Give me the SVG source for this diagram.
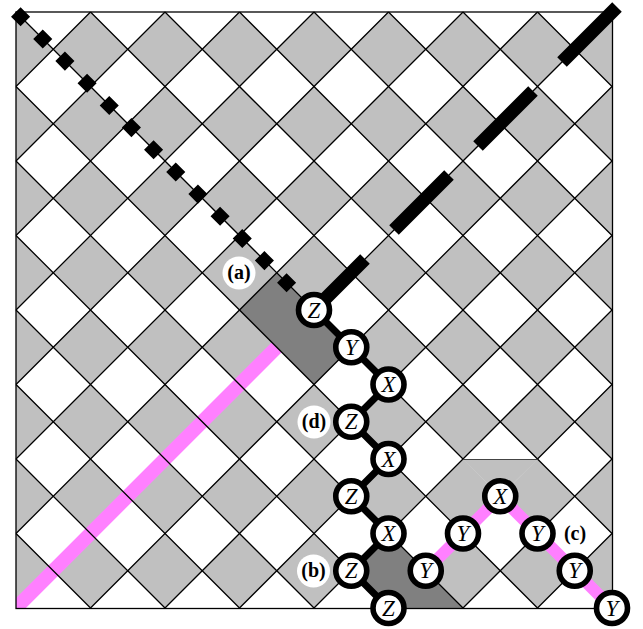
<svg xmlns="http://www.w3.org/2000/svg" width="643" height="629" viewBox="0 0 643 629">
<style>
.grid{fill:none;stroke:#000;stroke-width:1.3}
.light{fill:#c0c0c0}
.dark{fill:#808080}
.pink{fill:none;stroke:#ff80ff;stroke-width:14}
.pinkn{fill:none;stroke:#ff80ff;stroke-width:12}
.blk{fill:none;stroke:#000;stroke-width:7}
.n{fill:#fff;stroke:#000;stroke-width:5.6}
.t{font-family:"Liberation Serif",serif;font-style:italic;font-size:23px;text-anchor:middle}
.lb{fill:#fff}
.lt{font-family:"Liberation Serif",serif;font-weight:bold;font-size:20px;text-anchor:middle}
</style>
<defs>
<clipPath id="box"><rect x="16" y="12" width="596" height="596"/></clipPath>
<path id="row" class="light" d="M-21.25 0l37.25-37.25 37.25 37.25 37.25-37.25 37.25 37.25 37.25-37.25 37.25 37.25 37.25-37.25 37.25 37.25 37.25-37.25 37.25 37.25 37.25-37.25 37.25 37.25 37.25-37.25 37.25 37.25 37.25-37.25 37.25 37.25 37.25-37.25 37.25 37.25l-37.25 37.25-37.25-37.25-37.25 37.25-37.25-37.25-37.25 37.25-37.25-37.25-37.25 37.25-37.25-37.25-37.25 37.25-37.25-37.25-37.25 37.25-37.25-37.25-37.25 37.25-37.25-37.25-37.25 37.25-37.25-37.25-37.25 37.25-37.25-37.25z"/>
</defs>
<rect width="643" height="629" fill="#fff"/>
<g id="board">
<g clip-path="url(#box)">
<use href="#row" y="49.25"/><use href="#row" y="123.75"/><use href="#row" y="198.25"/><use href="#row" y="272.75"/>
<use href="#row" y="347.25"/><use href="#row" y="421.75"/><use href="#row" y="496.25"/><use href="#row" y="570.75"/>
<path class="light" d="M463 459.5H537.5L500.25 496.25z"/>
<path class="dark" d="M239.5 310L276.75 272.75 351.25 347.25 314 384.5z"/>
<path class="dark" d="M388.5 533.5L463 608H388.5L351.25 570.75z"/>
<path class="pink" d="M11 613L276.75 347.25"/>
</g>
<path class="grid" d="M90.5 12L612 533.5M165 12L612 459M239.5 12L612 384.5M314 12L612 310M388.5 12L612 235.5M463 12L612 161M537.5 12L612 86.5M16 86.5L537.5 608M16 161L463 608M16 235.5L388.5 608M16 310L314 608M16 384.5L239.5 608M16 459L165 608M16 533.5L90.5 608M16 12L463 459"/>
<path class="grid" d="M90.5 12L16 86.5M165 12L16 161M239.5 12L16 235.5M314 12L16 310M388.5 12L16 384.5M463 12L16 459M537.5 12L16 533.5M612 12L314 310M612 86.5L90.5 608M612 161L165 608M612 235.5L239.5 608M612 310L314 608M612 384.5L537.5 459M612 459L463 608M612 533.5L537.5 608"/>
<path d="M463 459.5H537.5" fill="none" stroke="#444" stroke-width="1"/>
<rect x="16" y="12" width="596.5" height="596.5" fill="none" stroke="#000" stroke-width="1.3"/>
</g>
<g id="connectors">
<path d="M15.8 12L291.5 287.7" fill="none" stroke="#000" stroke-width="13.5" stroke-dasharray="13.5 17.85"/>
<path d="M617 7L562 62M533 91L478 146M449 175L394 230M365 259L314 310" fill="none" stroke="#000" stroke-width="13.5"/>
<path class="blk" d="M314 310L351.25 347.25 388.5 384.5 351.25 421.75 388.5 459 351.25 496.25 388.5 533.5 351.25 570.75 388.5 608"/>
<path class="pinkn" d="M425.75 570.75L500.25 496.25 612 608"/>
</g>
<g id="label-a"><circle class="lb" cx="239" cy="273" r="16.5"/><text class="lt" x="239" y="279">(a)</text></g>
<g id="label-d"><circle class="lb" cx="314" cy="422" r="16.5"/><text class="lt" x="314" y="428">(d)</text></g>
<g id="label-b"><circle class="lb" cx="313.5" cy="571" r="16.5"/><text class="lt" x="313.5" y="577">(b)</text></g>
<g id="label-c"><circle class="lb" cx="575" cy="534" r="16.5"/><text class="lt" x="575" y="540">(c)</text></g>
<g id="n1"><circle class="n" cx="314" cy="310" r="15.5"/><text class="t" x="314" y="317.5">Z</text></g>
<g id="n2"><circle class="n" cx="351.25" cy="347.25" r="15.5"/><text class="t" x="351.25" y="354.75">Y</text></g>
<g id="n3"><circle class="n" cx="388.5" cy="384.5" r="15.5"/><text class="t" x="388.5" y="392">X</text></g>
<g id="n4"><circle class="n" cx="351.25" cy="421.75" r="15.5"/><text class="t" x="351.25" y="429.25">Z</text></g>
<g id="n5"><circle class="n" cx="388.5" cy="459" r="15.5"/><text class="t" x="388.5" y="466.5">X</text></g>
<g id="n6"><circle class="n" cx="351.25" cy="496.25" r="15.5"/><text class="t" x="351.25" y="503.75">Z</text></g>
<g id="n7"><circle class="n" cx="388.5" cy="533.5" r="15.5"/><text class="t" x="388.5" y="541">X</text></g>
<g id="n8"><circle class="n" cx="351.25" cy="570.75" r="15.5"/><text class="t" x="351.25" y="578.25">Z</text></g>
<g id="n9"><circle class="n" cx="388.5" cy="608" r="15.5"/><text class="t" x="388.5" y="615.5">Z</text></g>
<g id="n10"><circle class="n" cx="425.75" cy="570.75" r="15.5"/><text class="t" x="425.75" y="578.25">Y</text></g>
<g id="n11"><circle class="n" cx="463" cy="533.5" r="15.5"/><text class="t" x="463" y="541">Y</text></g>
<g id="n12"><circle class="n" cx="500.25" cy="496.25" r="15.5"/><text class="t" x="500.25" y="503.75">X</text></g>
<g id="n13"><circle class="n" cx="537.5" cy="533.5" r="15.5"/><text class="t" x="537.5" y="541">Y</text></g>
<g id="n14"><circle class="n" cx="574.75" cy="570.75" r="15.5"/><text class="t" x="574.75" y="578.25">Y</text></g>
<g id="n15"><circle class="n" cx="612" cy="608" r="15.5"/><text class="t" x="612" y="615.5">Y</text></g>
</svg>
